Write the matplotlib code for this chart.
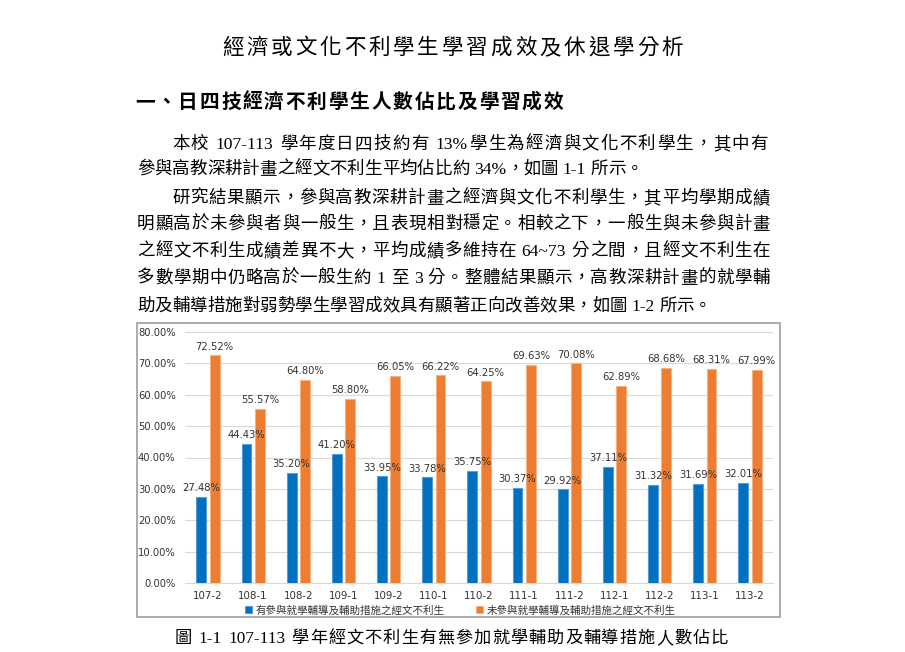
import matplotlib
matplotlib.use('Agg')
import matplotlib.pyplot as plt
import matplotlib.patches as patches
from matplotlib.ticker import PercentFormatter
import numpy as np

# 資料
semesters = ['107-2', '108-1', '108-2', '109-1', '109-2', '110-1', '110-2',
             '111-1', '111-2', '112-1', '112-2', '113-1', '113-2']
joined = [27.48, 44.43, 35.20, 41.20, 33.95, 33.78, 35.75, 30.37, 29.92, 37.11, 31.32, 31.69, 32.01]
not_joined = [72.52, 55.57, 64.80, 58.80, 66.05, 66.22, 64.25, 69.63, 70.08, 62.89, 68.68, 68.31, 67.99]
legend_labels = ['有參與就學輔導及輔助措施之經文不利生', '未參與就學輔導及輔助措施之經文不利生']

title = '經濟或文化不利學生學習成效及休退學分析'
heading = '一、日四技經濟不利學生人數佔比及學習成效'
body_lines = [
    '本校 107-113 學年度日四技約有 13%學生為經濟與文化不利學生，其中有',
    '參與高教深耕計畫之經文不利生平均佔比約 34%，如圖 1-1 所示。',
    '研究結果顯示，參與高教深耕計畫之經濟與文化不利學生，其平均學期成績',
    '明顯高於未參與者與一般生，且表現相對穩定。相較之下，一般生與未參與計畫',
    '之經文不利生成績差異不大，平均成績多維持在 64~73 分之間，且經文不利生在',
    '多數學期中仍略高於一般生約 1 至 3 分。整體結果顯示，高教深耕計畫的就學輔',
    '助及輔導措施對弱勢學生學習成效具有顯著正向改善效果，如圖 1-2 所示。',
]
caption = '圖 1-1 107-113 學年經文不利生有無參加就學輔助及輔導措施人數佔比'

plt.rcParams['font.family'] = ['DejaVu Sans', 'Noto Sans CJK TC']
doc_font = ['Liberation Serif', 'Noto Sans CJK TC']

W, H = 905, 652
fig = plt.figure(figsize=(W / 100, H / 100), dpi=100)
fig.patch.set_facecolor('white')
renderer = fig.canvas.get_renderer()

def fx(px):
    return px / W

def fy(py):
    return 1 - py / H

def tokens(s):
    # 中文字一個一個，英數連在一起
    out = []
    buf = ''
    for ch in s:
        if ord(ch) < 128 and ch != ' ':
            buf += ch
        else:
            if buf:
                out.append(buf)
                buf = ''
            out.append(ch)
    if buf:
        out.append(buf)
    return out

def text_w(s, **kw):
    t = fig.text(0, 0, s, **kw)
    w = t.get_window_extent(renderer).width
    t.remove()
    return w

def spaced_line(s, x0, y, x1=None, **kw):
    # 排版: x1 有給就左右對齊
    toks = tokens(s)
    sp = text_w('x x', **kw) - text_w('xx', **kw)
    widths = [sp if t == ' ' else text_w(t, **kw) for t in toks]
    gap = 0
    if x1 is not None and len(toks) > 1:
        gap = (x1 - x0 - sum(widths)) / (len(toks) - 1)
    x = x0
    for t, w in zip(toks, widths):
        if t != ' ':
            fig.text(fx(x), fy(y), t, ha='left', va='baseline', **kw)
        x += w + gap

body_kw = dict(family=doc_font, fontsize=12.6)
spaced_line(title, 222, 54, 683, family=doc_font, fontsize=15.5)
spaced_line(heading, 135, 108, 563, family=doc_font, fontsize=14.2, fontweight='bold')
line_y = [149, 174, 203, 229, 256, 283, 311]
starts = [172, 137, 172, 137, 137, 137, 137]
ends = [768, None, 770, 770, 770, 770, None]
for txt, yy, x0, x1 in zip(body_lines, line_y, starts, ends):
    spaced_line(txt, x0, yy, x1, **body_kw)
spaced_line(caption, 175, 643, 728, family=doc_font, fontsize=12.4)

# 圖框
fig.patches.append(patches.Rectangle((fx(137), fy(617)), fx(780) - fx(137), fy(323) - fy(617),
                                     transform=fig.transFigure, fill=False,
                                     edgecolor='#A6A6A6', linewidth=1.3))

ax = fig.add_axes([fx(185.4), fy(583), fx(772.6) - fx(185.4), fy(332) - fy(583)])
x = np.arange(len(semesters))
w = 0.22
off = 0.148
p1 = np.array(joined) / 100
p2 = np.array(not_joined) / 100
b1 = ax.bar(x - off, p1, w, color='#0070C0', edgecolor='#5B9BD5', linewidth=0.8, label=legend_labels[0], zorder=3)
b2 = ax.bar(x + off, p2, w, color='#ED7D31', edgecolor='#F4B183', linewidth=0.8, label=legend_labels[1], zorder=3)

for bars, vals in ((b1, joined), (b2, not_joined)):
    for r, v in zip(bars, vals):
        ax.annotate('%.2f%%' % v, (r.get_x() + r.get_width() / 2, r.get_height()),
                    xytext=(0, 2.5), textcoords='offset points', ha='center', va='bottom',
                    fontsize=7.2, color='#333333')

ax.set_xlim(-0.5, len(semesters) - 0.5)
ax.set_ylim(0, 0.8)
ax.set_yticks(np.arange(0, 0.81, 0.1))
ax.yaxis.set_major_formatter(PercentFormatter(xmax=1, decimals=2))
ax.set_xticks(x)
ax.set_xticklabels(semesters)
ax.tick_params(axis='y', length=0, pad=7, labelsize=7.2, labelcolor='#333333')
ax.tick_params(axis='x', length=0, pad=6, labelsize=7.4, labelcolor='#333333')
ax.grid(axis='y', color='#D9D9D9', linewidth=0.8, zorder=0)
for s in ['top', 'right', 'left']:
    ax.spines[s].set_visible(False)
ax.spines['bottom'].set_color('#D9D9D9')
ax.set_facecolor('none')

fig.legend(handles=[b1, b2], loc='center', bbox_to_anchor=(fx(460), fy(610)), ncol=2,
           frameon=False, fontsize=7.6, handlelength=0.7, handleheight=0.7,
           handletextpad=0.3, columnspacing=3.0, labelcolor='#333333')

fig.savefig('out.png', dpi=100)
